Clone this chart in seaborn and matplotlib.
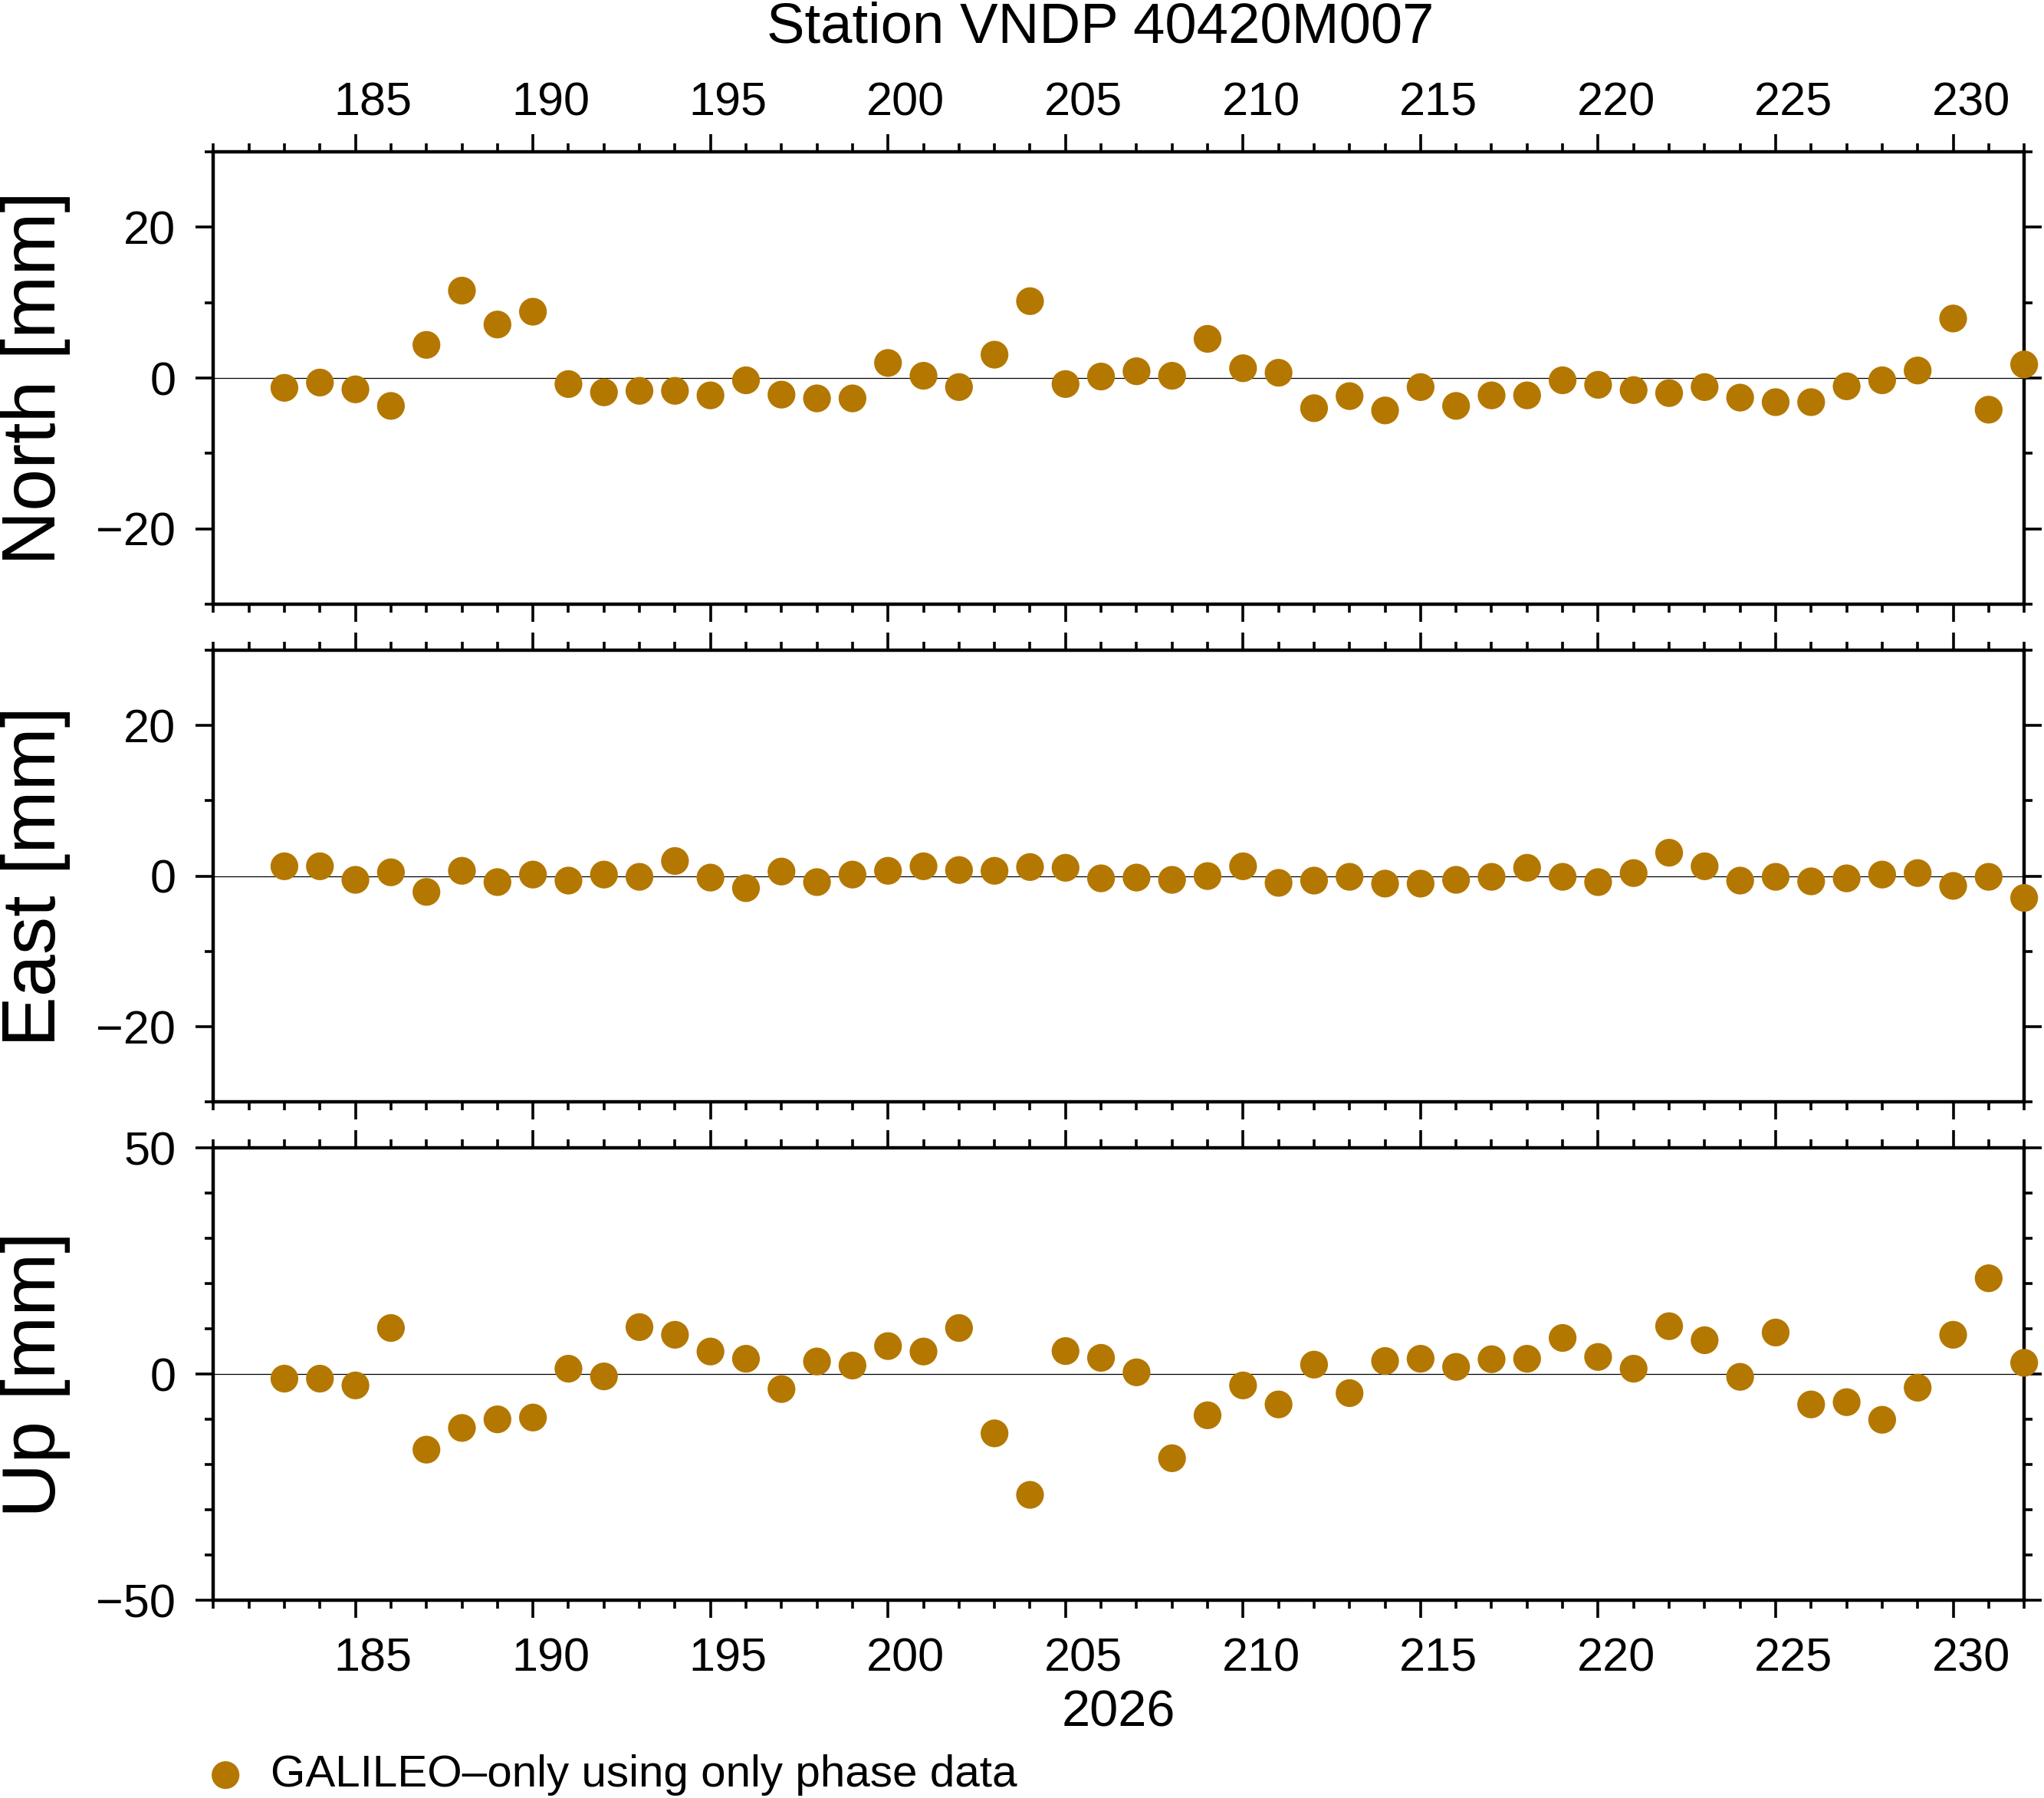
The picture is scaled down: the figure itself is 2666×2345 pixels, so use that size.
import matplotlib
matplotlib.use("Agg")
import matplotlib.pyplot as plt
from matplotlib.ticker import FixedLocator, MultipleLocator, NullLocator
import seaborn as sns
import pandas as pd

# ---------------- data ----------------
days = [183, 184, 185, 186, 187, 188, 189, 190, 191, 192,
        193, 194, 195, 196, 197, 198, 199, 200, 201, 202,
        203, 204, 205, 206, 207, 208, 209, 210, 211, 212,
        213, 214, 215, 216, 217, 218, 219, 220, 221, 222,
        223, 224, 225, 226, 227, 228, 229, 230, 231, 232]

north = [-1.3, -0.6, -1.5, -3.7, 4.4, 11.6, 7.1, 8.8, -0.8, -1.9,
         -1.7, -1.7, -2.3, -0.3, -2.2, -2.7, -2.7, 2.0, 0.3, -1.2,
         3.1, 10.2, -0.8, 0.2, 0.9, 0.3, 5.2, 1.3, 0.7, -4.0,
         -2.4, -4.3, -1.2, -3.7, -2.3, -2.3, -0.3, -0.9, -1.6, -2.0,
         -1.2, -2.6, -3.2, -3.2, -1.1, -0.3, 1.0, 7.9, -4.2, 1.8]

east = [1.3, 1.3, -0.5, 0.5, -2.1, 0.7, -0.8, 0.2, -0.6, 0.2,
        -0.1, 2.0, -0.2, -1.6, 0.6, -0.8, 0.2, 0.7, 1.3, 0.8,
        0.7, 1.2, 1.1, -0.3, -0.2, -0.5, 0.0, 1.3, -0.9, -0.6,
        -0.1, -1.0, -1.0, -0.5, -0.1, 1.1, -0.1, -0.8, 0.4, 3.1,
        1.3, -0.6, -0.1, -0.7, -0.3, 0.2, 0.4, -1.3, -0.1, -2.9]

up = [-1.0, -1.0, -2.5, 10.2, -16.7, -11.9, -10.0, -9.6, 1.2, -0.5,
      10.4, 8.7, 5.0, 3.4, -3.3, 2.8, 1.9, 6.2, 5.0, 10.2,
      -13.1, -26.7, 5.1, 3.6, 0.4, -18.6, -9.1, -2.5, -6.7, 2.1,
      -4.2, 2.9, 3.4, 1.6, 3.3, 3.4, 8.0, 3.8, 1.2, 10.6,
      7.5, -0.6, 9.2, -6.7, -6.2, -10.1, -3.0, 8.7, 21.2, 2.5]

components = ["North", "East", "Up"]
ylabels = ["North [mm]", "East [mm]", "Up [mm]"]
ylims = [(-30, 30), (-30, 30), (-50, 50)]
ymajor = [[-20, 0, 20], [-20, 0, 20], [-50, 0, 50]]
xmajor = [185, 190, 195, 200, 205, 210, 215, 220, 225, 230]
xlabels_txt = ["185", "190", "195", "200", "205", "210", "215", "220", "225", "230"]
xlim = (181, 232)
title = "Station VNDP 40420M007"
year_label = "2026"
legend_label = "GALILEO\u2013only using only phase data"

df = pd.DataFrame({"day": days, "North": north, "East": east, "Up": up})

# ---------------- style ----------------
sns.set_style("ticks")
plt.rcParams["font.family"] = ["Liberation Sans", "DejaVu Sans"]
plt.rcParams["axes.linewidth"] = 1.6
for key in ["text.color", "axes.labelcolor", "xtick.color", "ytick.color",
            "axes.edgecolor", "xtick.labelcolor", "ytick.labelcolor"]:
    plt.rcParams[key] = "black"

COLOR = "#b47800"
TICK_FS = 22

fig = plt.figure(figsize=(13.33, 11.725), dpi=200)

left, width, height = 0.1044, 0.8859, 0.2515
bottoms = [0.6640, 0.3870, 0.1100]

axes = []
for i, comp in enumerate(components):
    ax = fig.add_axes([left, bottoms[i], width, height])
    axes.append(ax)
    ax.axhline(0, color="black", lw=0.45, zorder=1)
    sns.scatterplot(data=df, x="day", y=comp, ax=ax, s=170, color=COLOR,
                    edgecolor="none", linewidth=0, clip_on=False, zorder=3,
                    legend=False)
    ax.set_xlim(*xlim)
    ax.set_ylim(*ylims[i])
    ax.xaxis.set_major_locator(FixedLocator(xmajor))
    ax.xaxis.set_minor_locator(MultipleLocator(1))
    ax.yaxis.set_major_locator(FixedLocator(ymajor[i]))
    ax.yaxis.set_minor_locator(MultipleLocator(10))
    ax.tick_params(axis="x", which="both", direction="out", top=True, bottom=True,
                   labelbottom=False, labeltop=False, width=1.3, color="black")
    ax.tick_params(axis="x", which="major", length=8.3)
    ax.tick_params(axis="x", which="minor", length=4.1)
    ax.tick_params(axis="y", which="both", direction="out", left=True, right=True,
                   labelleft=True, labelright=False, width=1.3, color="black",
                   labelsize=TICK_FS, pad=9.4, labelcolor="black")
    ax.tick_params(axis="y", which="major", length=8.3)
    ax.tick_params(axis="y", which="minor", length=4.1)
    ax.set_xlabel("")
    ax.set_ylabel(ylabels[i], fontsize=35.5, color="black")
    ax.yaxis.set_label_coords(-0.0790, 0.5)
    for sp in ax.spines.values():
        sp.set_visible(True)
        sp.set_linewidth(1.6)
        sp.set_color("black")

label_pos = [d + 0.5 for d in xmajor]

# top labels on the first panel
sec_top = axes[0].secondary_xaxis("top")
sec_top.set_xticks(label_pos, labels=xlabels_txt)
sec_top.xaxis.set_minor_locator(NullLocator())
sec_top.tick_params(length=0, pad=12.5, labelsize=TICK_FS, labelcolor="black")
sec_top.spines["top"].set_visible(False)

# bottom labels on the last panel
sec_bot = axes[2].secondary_xaxis("bottom")
sec_bot.set_xticks(label_pos, labels=xlabels_txt)
sec_bot.xaxis.set_minor_locator(NullLocator())
sec_bot.tick_params(length=0, pad=17.5, labelsize=TICK_FS, labelcolor="black")
sec_bot.spines["bottom"].set_visible(False)
sec_bot.set_xlabel(year_label, fontsize=24, labelpad=4, color="black")

fig.text(0.5383, 0.9765, title, fontsize=26.8, ha="center", va="baseline",
         color="black")

handle = axes[0].collections[0]
fig.legend([handle], [legend_label], loc="center left",
           bbox_to_anchor=(0.0994, 0.0126), frameon=False, fontsize=21,
           borderpad=0, borderaxespad=0, handlelength=1.0, handletextpad=0.5,
           scatterpoints=1, labelcolor="black")

fig.savefig("out.png", dpi=200)
